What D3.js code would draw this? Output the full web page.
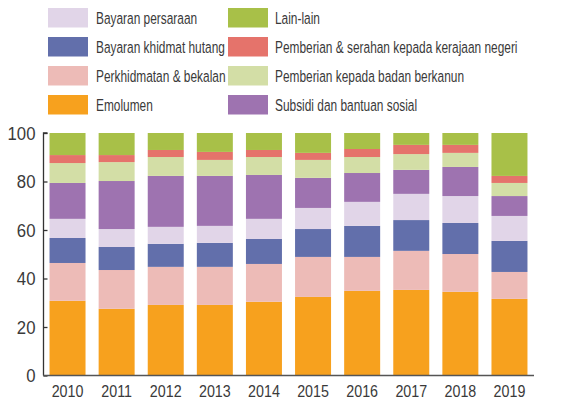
<!DOCTYPE html>
<html><head><meta charset="utf-8">
<script src="https://cdn.jsdelivr.net/npm/d3@7"></script>
<style>
html,body{margin:0;padding:0;background:#fff;}
svg text{font-family:"Liberation Sans Narrow","Arial Narrow","Liberation Sans",sans-serif;fill:#3a3a3a;}
</style></head>
<body><svg id="c" width="583" height="401"></svg>
<script>
const years = ["2010","2011","2012","2013","2014","2015","2016","2017","2018","2019"];
const seriesNames = ["Emolumen","Perkhidmatan & bekalan","Bayaran khidmat hutang","Bayaran persaraan","Subsidi dan bantuan sosial","Pemberian kepada badan berkanun","Pemberian & serahan kepada kerajaan negeri","Lain-lain"];
const emolumen     = [30.8,27.5,29.1,29.1,30.4,32.4,34.9,35.3,34.5,31.6];
const perkhidmatan = [15.6,16.0,15.7,15.7,15.6,16.5,14.0,16.1,15.6,11.1];
const hutang       = [10.3, 9.5, 9.5, 9.9,10.3,11.5,12.8,12.7,12.8,12.8];
const persaraan    = [ 7.9, 7.4, 7.0, 7.0, 8.3, 8.7, 9.9,10.8,11.1,10.3];
const subsidi      = [14.8,19.8,21.0,20.6,18.1,12.4,11.9, 9.9,12.0, 8.2];
const berkanun     = [ 8.2, 7.8, 7.8, 6.6, 7.4, 7.4, 6.6, 6.5, 5.8, 5.4];
const negeri       = [ 3.3, 2.9, 2.9, 3.3, 2.9, 2.9, 3.3, 3.8, 3.3, 2.9];
const lain         = [ 9.1, 9.1, 7.0, 7.8, 7.0, 8.2, 6.6, 4.9, 4.9,17.7];
const colors = ["#f7a11e","#edbbb7","#626fab","#e1d5e8","#9e73b0","#d3dea6","#e5736b","#a8c048"];
const yTicks = [0,20,40,60,80,100];
// legend order (two columns)
const legendCol1 = ["Bayaran persaraan","Bayaran khidmat hutang","Perkhidmatan & bekalan","Emolumen"];
const legendCol2 = ["Lain-lain","Pemberian & serahan kepada kerajaan negeri","Pemberian kepada badan berkanun","Subsidi dan bantuan sosial"];

const seriesVals = [emolumen,perkhidmatan,hutang,persaraan,subsidi,berkanun,negeri,lain];
const rows = years.map((y,i)=>{const o={year:y}; seriesNames.forEach((s,k)=>o[s]=seriesVals[k][i]); return o;});
const stacked = d3.stack().keys(seriesNames)(rows);
const color = d3.scaleOrdinal().domain(seriesNames).range(colors);

// condense text horizontally (no narrow font installed)
function condense(sel, f){
  sel.each(function(){
    const w = this.getComputedTextLength();
    this.setAttribute("textLength", (w*f).toFixed(2));
    this.setAttribute("lengthAdjust","spacingAndGlyphs");
  });
}

const svg = d3.select("#c");
const x = d3.scaleBand().domain(years).range([43,534]).paddingInner(0.267).paddingOuter(0.133);
const y = d3.scaleLinear().domain([0,100]).range([375.5,133]);

svg.append("g").selectAll("g").data(stacked).join("g")
  .attr("fill",d=>color(d.key))
  .selectAll("rect").data(d=>d).join("rect")
  .attr("x",d=>x(d.data.year)).attr("width",x.bandwidth())
  .attr("y",d=>y(Math.min(d[1],100))).attr("height",d=>y(d[0])-y(Math.min(d[1],100)));

// y axis
const ya = svg.append("g").attr("transform","translate(43.5,0)")
  .call(d3.axisRight(y).tickValues(yTicks).tickSize(4).tickFormat(d3.format("d")));
ya.select(".domain").attr("stroke","#333").attr("stroke-width",1.3).attr("d",`M4,${y(100)}H0V${y(0)}`);
ya.selectAll(".tick line").attr("stroke","#333").attr("stroke-width",1.3);
ya.selectAll(".tick text").attr("x",-8).attr("text-anchor","end").attr("font-size",18).attr("dy","0.34em");
condense(ya.selectAll(".tick text"),0.93);

// x axis
const xa = svg.append("g").attr("transform","translate(0,375.5)")
  .call(d3.axisBottom(x).tickSize(0).tickPadding(9));
xa.select(".domain").attr("stroke","#555").attr("stroke-width",1.3).attr("d","M43,0H534");
xa.selectAll(".tick text").attr("font-size",17).attr("dy","0.71em");
condense(xa.selectAll(".tick text"),0.84);

// legend
const lg = svg.append("g");
function legendCol(names, sx, tx){
  names.forEach((n,i)=>{
    lg.append("rect").attr("x",sx).attr("y",8+i*29).attr("width",40).attr("height",19.5).attr("fill",color(n));
    lg.append("g").attr("transform",`translate(${tx},${8+i*29+10}) scale(0.70,1)`)
      .append("text").attr("x",0).attr("y",0).attr("dy","0.38em").attr("font-size",17).text(n);
  });
}
legendCol(legendCol1,48,96);
legendCol(legendCol2,228,275);
</script></body></html>
